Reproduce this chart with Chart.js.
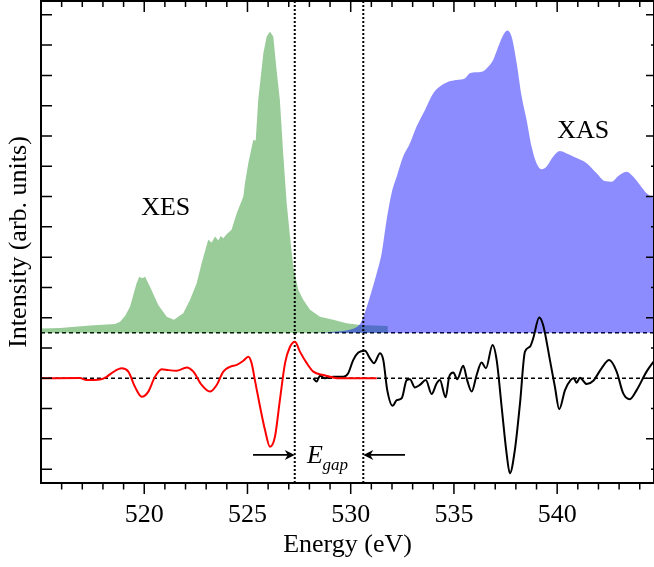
<!DOCTYPE html>
<html><head><meta charset="utf-8">
<script src="https://cdn.jsdelivr.net/npm/chart.js@4.4.0/dist/chart.umd.min.js"></script>
<style>html,body{margin:0;padding:0;background:#fff;overflow:hidden}canvas{display:block}</style>
</head><body>
<canvas id="c" width="654" height="567"></canvas>
<script>
// ---- data ----
const xesEnergy = [515.00,515.92,517.37,518.58,518.83,519.07,519.31,519.63,519.76,519.90,520.04,520.28,520.68,521.09,521.44,521.89,522.22,522.54,522.78,523.10,523.27,523.43,523.59,523.70,523.83,524.00,524.23,524.48,524.80,524.88,525.04,525.28,525.40,525.52,525.77,525.93,526.09,526.25,526.41,526.57,526.73,526.90,527.06,527.22,527.46,527.70,528.03,528.51,529.15,529.80,530.45,531.17,531.80];
const xesIntensity = [1.64,1.66,1.74,1.79,1.87,2.06,2.36,3.14,3.35,3.30,3.35,3.02,2.42,2.03,1.93,2.15,2.59,3.14,3.80,4.57,4.48,4.68,4.55,4.70,4.62,4.76,4.90,5.45,6.00,6.45,7.10,7.87,7.85,9.19,10.73,11.28,11.44,11.28,10.18,9.19,7.43,5.78,4.68,3.68,2.92,2.59,2.26,2.03,1.93,1.82,1.76,1.74,1.73];
const xasEnergy = [527.54,528.03,529.48,529.96,530.29,530.45,530.61,530.93,531.26,531.50,531.74,531.98,532.23,532.54,532.87,533.19,533.60,534.00,534.32,534.72,535.13,535.53,535.77,536.34,536.58,536.90,537.15,537.39,537.58,537.79,538.04,538.28,538.52,538.76,539.00,539.25,539.49,539.81,540.13,540.38,540.78,541.43,541.91,542.31,542.64,542.96,543.36,543.68,544.01,544.33,544.69];
const xasIntensity = [1.50,1.50,1.55,1.60,1.69,1.79,2.02,2.69,3.47,4.13,5.23,6.11,6.66,7.32,7.76,8.31,8.86,9.41,9.63,9.79,9.85,9.90,10.07,10.12,10.23,10.51,10.95,11.33,11.48,11.28,10.40,9.30,8.53,7.65,7.10,6.90,6.99,7.32,7.50,7.45,7.32,7.10,6.77,6.51,6.49,6.68,6.82,6.66,6.38,6.11,5.94];
const xesDerivEnergy = [515.00,516.89,517.21,517.86,518.18,518.42,518.91,519.23,519.55,519.88,520.20,520.52,520.85,521.16,521.57,522.06,522.38,522.78,523.18,523.51,523.83,524.15,524.48,524.80,525.04,525.20,525.36,525.61,525.85,526.09,526.33,526.57,526.82,527.06,527.30,527.54,527.87,528.19,528.67,529.48,531.26];
const xesDerivValue = [0,0.01,-0.06,-0.04,0.05,0.17,0.33,0.22,-0.28,-0.61,-0.44,0.05,0.30,0.27,0.25,0.36,0.22,-0.22,-0.44,-0.22,0.22,0.38,0.44,0.58,0.71,0.50,-0.06,-0.94,-1.71,-2.26,-1.93,-0.72,0.50,1.04,1.21,0.88,0.50,0.22,0.11,0,0];
const xasDerivEnergy = [528.19,528.35,528.51,528.75,529.15,529.64,529.88,530.12,530.37,530.69,530.93,531.13,531.42,531.58,531.77,532.03,532.23,532.47,532.71,532.87,533.11,533.35,533.64,533.92,534.16,534.32,534.60,534.77,534.97,535.16,535.45,535.64,535.86,536.10,536.34,536.55,536.87,537.07,537.31,537.55,537.71,537.95,538.20,538.44,538.68,538.84,539.13,539.32,539.65,539.89,540.10,540.38,540.65,540.81,540.94,541.10,541.43,541.75,542.15,542.52,542.88,543.20,543.52,543.85,544.33,544.69];
const xasDerivValue = [0,-0.11,0.08,0,0.05,0.05,0.17,0.60,0.85,0.91,0.66,0.50,0.83,0.60,-0.39,-0.91,-0.72,-0.66,-0.06,-0.03,-0.30,-0.22,-0.06,-0.52,-0.17,-0.06,-0.63,0.05,0.19,-0.03,0.41,-0.06,-0.44,0.11,0.52,0.33,1.10,0.60,-0.94,-2.48,-3.14,-2.37,-0.83,0.88,1.04,1.32,2.01,1.76,0.60,-0.28,-1.02,-0.39,-0.06,0,-0.15,0.02,-0.19,-0.08,0.33,0.60,0.22,-0.50,-0.69,-0.39,0.22,0.57];
const xTickLabels = [520,525,530,535,540];
const gapEdges = [527.29, 530.61];       // dotted vertical lines (eV)
const baselines = [0, 1.5];              // dashed horizontal lines
const arrowY = -2.53;
const arrowStarts = [525.27, 532.63];    // arrow tails (eV), tips at gapEdges
const X_MIN = 515, X_MAX = 544.69, Y_MIN = -3.457, Y_MAX = 12.456;

const SERIF = "'Liberation Serif','Times New Roman',serif";
const pts = (xs, ys) => xs.map((x, i) => ({x, y: ys[i]}));

const datasets = [];
baselines.forEach(b => datasets.push({
  data: [{x: X_MIN, y: b}, {x: X_MAX, y: b}], borderColor: '#000', borderWidth: 1.5,
  borderDash: [4, 3], pointRadius: 0, fill: false, order: 10
}));
datasets.push({
  label: 'XES', data: pts(xesEnergy, xesIntensity), borderWidth: 0, borderColor: 'rgba(0,0,0,0)',
  backgroundColor: 'rgba(0,128,0,0.4)', fill: {value: 1.5}, pointRadius: 0, tension: 0, order: 9
});
datasets.push({
  label: 'XAS', data: pts(xasEnergy, xasIntensity), borderWidth: 0, borderColor: 'rgba(0,0,0,0)',
  backgroundColor: 'rgba(0,0,255,0.45)', fill: {value: 1.5}, pointRadius: 0,
  cubicInterpolationMode: 'monotone', order: 8
});
gapEdges.forEach(g => datasets.push({
  data: [{x: g, y: Y_MIN}, {x: g, y: Y_MAX}], borderColor: '#000', borderWidth: 2,
  borderDash: [2, 2], pointRadius: 0, fill: false, order: 5
}));
datasets.push({
  label: 'XAS deriv', data: pts(xasDerivEnergy, xasDerivValue), borderColor: '#000', borderWidth: 2,
  pointRadius: 0, fill: false, cubicInterpolationMode: 'monotone', order: 2
});
datasets.push({
  label: 'XES deriv', data: pts(xesDerivEnergy, xesDerivValue), borderColor: '#ff0000', borderWidth: 2,
  pointRadius: 0, fill: false, cubicInterpolationMode: 'monotone', order: 1
});

const framePlugin = {
  id: 'frame',
  afterDraw(chart) {
    const {ctx, chartArea: a, scales: {x, y}} = chart;
    ctx.save();
    ctx.strokeStyle = '#000';
    ctx.lineWidth = 1.5;
    ctx.beginPath();
    for (let v = 516; v <= 544; v++) {
      const px = x.getPixelForValue(v);
      const major = v % 5 === 0;
      ctx.moveTo(px, a.top); ctx.lineTo(px, a.top + (major ? 11 : 6));
      ctx.moveTo(px, a.bottom); ctx.lineTo(px, a.bottom + (major ? 11 : 6.5));
    }
    for (let v = -3; v <= 12; v++) {
      const py = y.getPixelForValue(v);
      ctx.moveTo(a.left, py); ctx.lineTo(a.left + 11, py);
      ctx.moveTo(a.right, py); ctx.lineTo(a.right - (v % 2 === 0 ? 8 : 3), py);
    }
    ctx.stroke();
    ctx.lineWidth = 2;
    ctx.strokeRect(a.left, a.top, a.right - a.left, a.bottom - a.top);

    // arrows
    ctx.lineWidth = 1.8;
    ctx.fillStyle = '#000';
    arrowStarts.forEach((s, i) => {
      const x0 = x.getPixelForValue(s), x1 = x.getPixelForValue(gapEdges[i]);
      const py = y.getPixelForValue(arrowY);
      const dir = Math.sign(x1 - x0);
      ctx.beginPath(); ctx.moveTo(x0, py); ctx.lineTo(x1 - dir * 4, py); ctx.stroke();
      ctx.beginPath();
      ctx.moveTo(x1, py);
      ctx.lineTo(x1 - dir * 10, py - 5);
      ctx.lineTo(x1 - dir * 7, py);
      ctx.lineTo(x1 - dir * 10, py + 5);
      ctx.closePath(); ctx.fill();
    });

    // labels
    ctx.fillStyle = '#000';
    ctx.textAlign = 'center'; ctx.textBaseline = 'middle';
    ctx.font = '26px ' + SERIF;
    ctx.fillText('XES', x.getPixelForValue(521.04), y.getPixelForValue(5.62));
    ctx.fillText('XAS', x.getPixelForValue(541.26), y.getPixelForValue(8.17));
    ctx.textAlign = 'left'; ctx.textBaseline = 'alphabetic';
    ctx.font = 'italic 26px ' + SERIF;
    const ex = x.getPixelForValue(527.88), ey = y.getPixelForValue(-2.80);
    ctx.fillText('E', ex, ey);
    ctx.font = 'italic 17px ' + SERIF;
    ctx.fillText('gap', ex + 15.5, ey + 7);
    ctx.restore();
  }
};

new Chart(document.getElementById('c'), {
  type: 'line',
  data: {datasets},
  plugins: [framePlugin],
  options: {
    responsive: false, animation: false, devicePixelRatio: 1,
    layout: {padding: {top: 1, right: 0, left: 0, bottom: 0}},
    plugins: {legend: {display: false}, tooltip: {enabled: false}},
    scales: {
      x: {
        type: 'linear', position: 'bottom', min: X_MIN, max: X_MAX,
        grid: {display: false}, border: {display: false},
        afterBuildTicks: s => { s.ticks = xTickLabels.map(v => ({value: v})); },
        ticks: {font: {family: SERIF, size: 26}, color: '#000', padding: 9, maxRotation: 0,
                callback: v => String(v)},
        title: {display: true, text: 'Energy (eV)', font: {family: SERIF, size: 26}, color: '#000',
                padding: {top: 0, bottom: 6}},
        afterFit: s => { s.height = 84; }
      },
      y: {
        type: 'linear', min: Y_MIN, max: Y_MAX,
        grid: {display: false}, border: {display: false},
        ticks: {display: false},
        title: {display: true, text: 'Intensity (arb. units)', font: {family: SERIF, size: 26}, color: '#000',
                padding: {top: 4, bottom: 0}},
        afterFit: s => { s.width = 41; }
      }
    }
  }
});
</script>
</body></html>
